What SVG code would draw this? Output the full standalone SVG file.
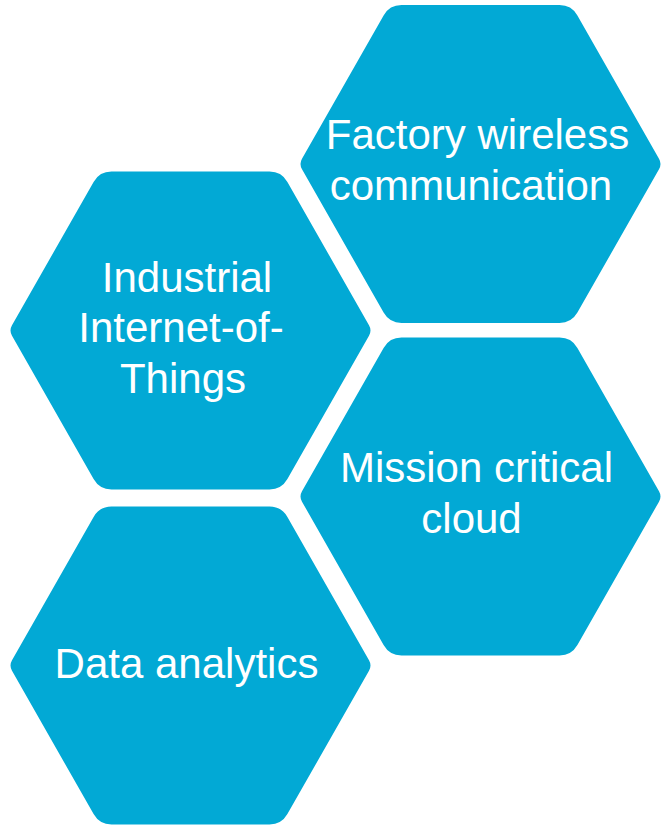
<svg xmlns="http://www.w3.org/2000/svg" xmlns:xlink="http://www.w3.org/1999/xlink" width="661" height="825" viewBox="0 0 661 825">
<style>
.hex{fill:#02A9D5}
.t{fill:#FFFFFF;font-family:"Liberation Sans",Arial,sans-serif;font-size:42px;text-anchor:middle}
</style>
<defs>
<path id="hexShape" d="M -79,-159 L 79,-159 Q 91,-159 96.9,-148.6 L 178.5,-5.2 Q 181.5,0 178.5,5.2 L 96.9,148.6 Q 91,159 79,159 L -79,159 Q -91,159 -96.9,148.6 L -178.5,5.2 Q -181.5,0 -178.5,-5.2 L -96.9,-148.6 Q -91,-159 -79,-159 Z"/>
</defs>
<rect width="661" height="825" fill="#FFFFFF"/>
<g id="factory-wireless">
<use xlink:href="#hexShape" href="#hexShape" class="hex" transform="translate(480.5,164)"/>
<text class="t" x="477.5" y="149">Factory wireless</text>
<text class="t" x="471" y="200">communication</text>
</g>
<g id="industrial-iot">
<use xlink:href="#hexShape" href="#hexShape" class="hex" transform="translate(190.5,330.5)"/>
<text class="t" x="187" y="292">Industrial</text>
<text class="t" x="181" y="342">Internet-of-</text>
<text class="t" x="183" y="393">Things</text>
</g>
<g id="mission-critical-cloud">
<use xlink:href="#hexShape" href="#hexShape" class="hex" transform="translate(480.5,496.5)"/>
<text class="t" x="476.5" y="482">Mission critical</text>
<text class="t" x="471.5" y="533">cloud</text>
</g>
<g id="data-analytics">
<use xlink:href="#hexShape" href="#hexShape" class="hex" transform="translate(190.5,665.5)"/>
<text class="t" x="186.5" y="678">Data analytics</text>
</g>
<g id="connectors"></g>
</svg>
